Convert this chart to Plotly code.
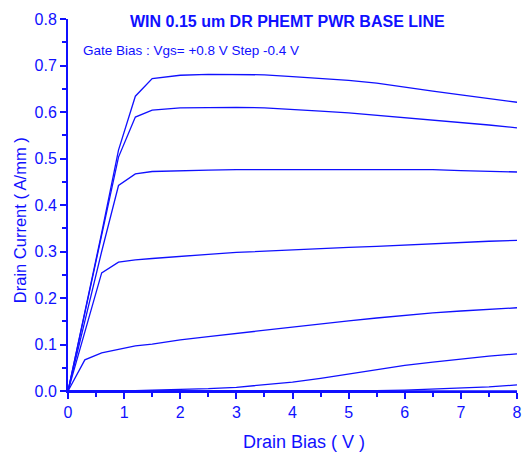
import plotly.graph_objects as go

# Drain bias sweep points (V)
drain_bias = [0, 0.3, 0.6, 0.9, 1.2, 1.5, 2.0, 2.5, 3.0, 3.5, 4.0, 4.5,
              5.0, 5.5, 6.0, 6.5, 7.0, 7.5, 8.0]

# Gate bias steps (V)
gate_bias = [0.8, 0.4, 0.0, -0.4, -0.8, -1.2, -1.6, -2.0]

# Drain current (A/mm) for each gate bias
id_vg_p08 = [0, 0.17, 0.34, 0.518, 0.634, 0.672, 0.679, 0.681, 0.681, 0.680,
             0.676, 0.672, 0.668, 0.662, 0.653, 0.645, 0.637, 0.629, 0.621]
id_vg_p04 = [0, 0.168, 0.335, 0.503, 0.589, 0.604, 0.609, 0.610, 0.610, 0.609,
             0.606, 0.602, 0.598, 0.593, 0.588, 0.583, 0.577, 0.572, 0.566]
id_vg_00 = [0, 0.15, 0.30, 0.442, 0.467, 0.472, 0.474, 0.475, 0.476, 0.476,
            0.476, 0.476, 0.477, 0.477, 0.477, 0.476, 0.474, 0.472, 0.471]
id_vg_m04 = [0, 0.127, 0.254, 0.277, 0.282, 0.285, 0.290, 0.294, 0.298, 0.301,
             0.304, 0.307, 0.309, 0.311, 0.314, 0.317, 0.320, 0.322, 0.324]
id_vg_m08 = [0, 0.067, 0.082, 0.090, 0.097, 0.101, 0.110, 0.117, 0.124, 0.131,
             0.138, 0.145, 0.151, 0.157, 0.163, 0.168, 0.172, 0.176, 0.179]
id_vg_m12 = [0, 0.000, 0.000, 0.001, 0.001, 0.002, 0.003, 0.005, 0.008, 0.013,
             0.019, 0.027, 0.036, 0.046, 0.055, 0.062, 0.069, 0.075, 0.080]
id_vg_m16 = [0, 0, 0, 0, 0, 0, 0, 0, 0, 0, 0, 0, 0,
             0.001, 0.002, 0.004, 0.006, 0.009, 0.013]
id_vg_m20 = [0, 0, 0, 0, 0, 0, 0, 0, 0, 0, 0, 0, 0, 0, 0, 0, 0, 0, 0]

curves = [id_vg_p08, id_vg_p04, id_vg_00, id_vg_m04,
          id_vg_m08, id_vg_m12, id_vg_m16, id_vg_m20]

BLUE = "#1010ff"
FONT = "Liberation Sans, Arial, sans-serif"

fig = go.Figure()
for vg, ids in zip(gate_bias, curves):
    fig.add_trace(go.Scatter(
        x=drain_bias, y=ids, mode="lines",
        name=f"Vgs={vg:+.1f} V",
        line=dict(color=BLUE, width=1.3),
        showlegend=False,
    ))

axis_common = dict(
    showgrid=False, zeroline=False, automargin=False,
    showline=True, linecolor=BLUE, linewidth=2,
    ticks="outside", ticklen=6, tickwidth=1.5, tickcolor=BLUE,
    tickfont=dict(family=FONT, size=16, color=BLUE),
    layer="above traces",
)

fig.update_xaxes(
    range=[0, 8], dtick=1, tick0=0,
    minor=dict(dtick=0.5, ticks="outside", ticklen=4, tickwidth=1.5, tickcolor=BLUE),
    **axis_common,
)
fig.update_yaxes(
    range=[0, 0.8], dtick=0.1, tick0=0, tickformat=".1f",
    minor=dict(dtick=0.05, ticks="outside", ticklen=4, tickwidth=1.5, tickcolor=BLUE),
    **axis_common,
)

fig.update_layout(
    width=522, height=455,
    margin=dict(l=68, r=5, t=19, b=64),
    paper_bgcolor="white", plot_bgcolor="white",
    font=dict(family=FONT, color=BLUE),
    annotations=[
        dict(text="<b>WIN 0.15 um DR PHEMT PWR BASE LINE</b>",
             xref="paper", yref="paper", x=0.489, y=0.9946,
             xanchor="center", yanchor="middle", showarrow=False,
             font=dict(family=FONT, size=16, color=BLUE)),
        dict(text="Gate Bias : Vgs= +0.8 V Step -0.4 V",
             xref="paper", yref="paper", x=0.029, y=0.916,
             xanchor="left", yanchor="middle", showarrow=False,
             font=dict(family=FONT, size=13.5, color=BLUE)),
        dict(text="Drain Bias ( V )",
             xref="paper", yref="paper", x=0.5267, y=-0.138,
             xanchor="center", yanchor="middle", showarrow=False,
             font=dict(family=FONT, size=18, color=BLUE)),
        dict(text="Drain Current ( A/mm )",
             xref="paper", yref="paper", x=-0.107, y=0.459,
             xanchor="center", yanchor="middle", showarrow=False,
             textangle=-90,
             font=dict(family=FONT, size=16.5, color=BLUE)),
    ],
)

fig.write_html("out.html")
